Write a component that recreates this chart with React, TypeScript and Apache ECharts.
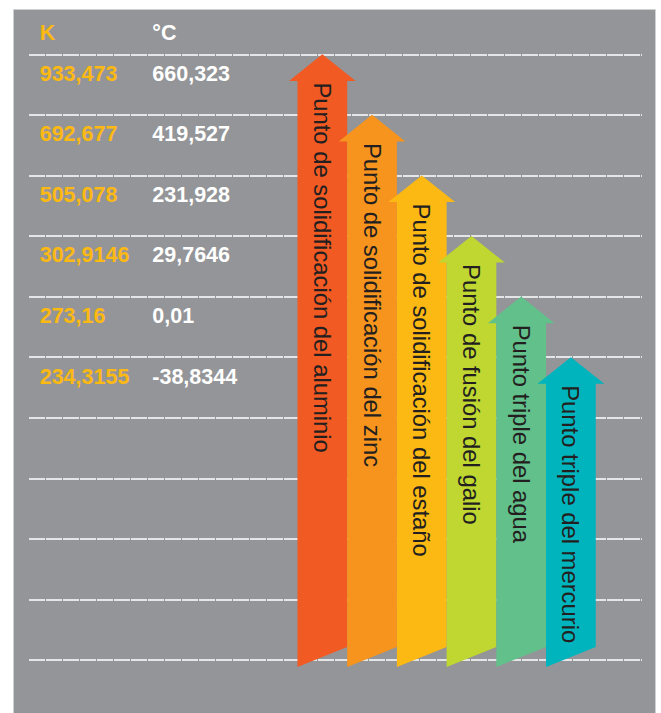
import React, { useEffect, useRef } from 'react';
import * as echarts from 'echarts';

const HEADERS = ['K', '°C'];
const K_VALUES = ['933,473', '692,677', '505,078', '302,9146', '273,16', '234,3155'];
const C_VALUES = ['660,323', '419,527', '231,928', '29,7646', '0,01', '-38,8344'];
const POINT_NAMES = [
  'Punto de solidificación del aluminio',
  'Punto de solidificación del zinc',
  'Punto de solidificación del estaño',
  'Punto de fusión del galio',
  'Punto triple del agua',
  'Punto triple del mercurio',
];
const ARROW_COLORS = ['#F15A22', '#F7941D', '#FDB913', '#BFD730', '#62C08B', '#00B4BE'];
const ROW_COUNT = 10;

export default function App() {
  const ref = useRef<HTMLDivElement>(null);
  useEffect(() => {
    document.body.style.margin = '0';
    const chart = echarts.init(ref.current as HTMLDivElement, null, { renderer: 'svg' });
    const X_MIN = -5.9;
    const X_MAX = 6.43;
    const K_X = X_MIN + 0.215;
    const C_X = X_MIN + 2.48;
    const TEXT_OFF = 0.32;

    const tableData = K_VALUES.map((k, i) => [i, k, C_VALUES[i]]);
    const arrowData = POINT_NAMES.map((n, i) => [i, i, n]);

    const option: any = {
      animation: false,
      graphic: [
        {
          type: 'rect',
          z: -10,
          shape: { x: 13.5, y: 9.5, width: 642, height: 712 },
          style: { fill: '#939598', stroke: '#cfd0d2', lineWidth: 1 },
        },
      ],
      grid: { left: 29, right: 19, top: 54.3, bottom: 53 },
      xAxis: { type: 'value', min: X_MIN, max: X_MAX, show: false },
      yAxis: {
        type: 'value',
        min: 0,
        max: ROW_COUNT,
        interval: 1,
        inverse: true,
        axisLine: { show: false },
        axisTick: { show: false },
        axisLabel: { show: false },
        splitLine: { show: true, lineStyle: { color: '#ffffff', width: 1.5, type: [16, 1] } },
      },
      series: [
        {
          type: 'custom',
          name: 'table',
          silent: true,
          data: [[-1, HEADERS[0], HEADERS[1]], ...tableData],
          renderItem: (params: any, api: any) => {
            const row = api.value(0);
            const idx = params.dataIndex;
            const item = idx === 0 ? [-1, HEADERS[0], HEADERS[1]] : tableData[idx - 1];
            const y = idx === 0 ? -0.35 : row + TEXT_OFF;
            const pk = api.coord([K_X, y]);
            const pc = api.coord([C_X, y]);
            const font = 'bold 21.5px "Liberation Sans", Arial, sans-serif';
            return {
              type: 'group',
              children: [
                {
                  type: 'text',
                  x: pk[0],
                  y: pk[1],
                  style: { text: item[1], font, fill: '#FDB913', align: 'left', verticalAlign: 'middle' },
                },
                {
                  type: 'text',
                  x: pc[0],
                  y: pc[1],
                  style: { text: item[2], font, fill: '#ffffff', align: 'left', verticalAlign: 'middle' },
                },
              ],
            };
          },
        },
        {
          type: 'custom',
          name: 'arrows',
          silent: true,
          data: arrowData,
          renderItem: (params: any, api: any) => {
            const i = params.dataIndex;
            const tip = api.coord([api.value(0), api.value(1)]);
            const bottom = api.coord([api.value(0), ROW_COUNT]);
            const sw = api.size([1, 0])[0];
            const cx = tip[0];
            const tipY = tip[1];
            const headH = 26.6;
            const headHalf = sw / 2 + 8.5;
            const baseY = tipY + headH;
            const bl = bottom[1] + 7;
            const br = bottom[1] - 13;
            const pts = [
              [cx, tipY],
              [cx + headHalf, baseY],
              [cx + sw / 2, baseY],
              [cx + sw / 2, br],
              [cx - sw / 2, bl],
              [cx - sw / 2, baseY],
              [cx - headHalf, baseY],
            ];
            return {
              type: 'group',
              children: [
                {
                  type: 'polygon',
                  shape: { points: pts },
                  style: { fill: ARROW_COLORS[i], stroke: 'none' },
                },
                {
                  type: 'text',
                  x: cx,
                  y: baseY + 1.5,
                  rotation: -Math.PI / 2,
                  style: {
                    text: POINT_NAMES[i],
                    font: '23.8px "Liberation Sans", Arial, sans-serif',
                    fill: '#231F20',
                    align: 'left',
                    verticalAlign: 'middle',
                  },
                },
              ],
            };
          },
        },
      ],
    };
    chart.setOption(option);
    return () => chart.dispose();
  }, []);
  return (
    <div
      ref={ref}
      style={{ position: 'absolute', left: 0, top: 0, width: 661, height: 713 }}
    />
  );
}
